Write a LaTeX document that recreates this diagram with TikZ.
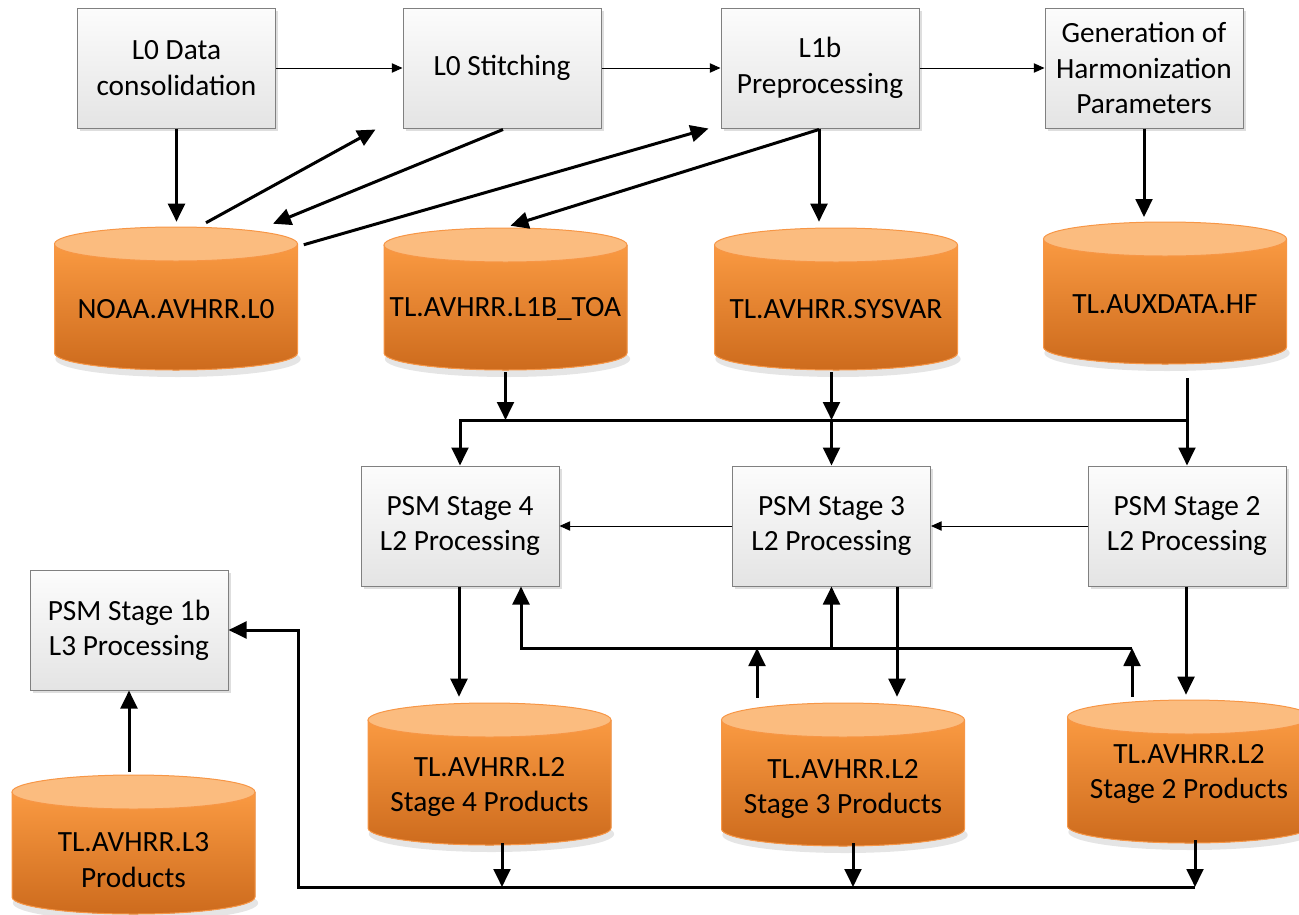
\documentclass[tikz,border=0pt]{standalone}
\usepackage{fontspec}
\newfontfamily\carlito{Carlito}
\usetikzlibrary{arrows.meta,calc,shadows}
\definecolor{boxtop}{HTML}{FCFCFC}
\definecolor{boxbot}{HTML}{E4E4E4}
\definecolor{boxline}{HTML}{808080}
\definecolor{cylA}{HTML}{FA9A42}
\definecolor{cylB}{HTML}{CD6B1D}
\definecolor{cylTop}{HTML}{FBBC7F}
\definecolor{cylLine}{HTML}{F79646}
\tikzset{
  procbox/.style={draw=boxline, line width=0.75pt, top color=boxtop, bottom color=boxbot,
    minimum width=148.5pt, minimum height=90pt, align=center, inner sep=2pt,
    font=\carlito\fontsize{22}{26.5}\selectfont,
    drop shadow={shadow xshift=2pt, shadow yshift=-2pt, fill=black, opacity=0.13}},
  cylnode/.style={inner sep=0pt, minimum width=182.25pt},
  cyltext/.style={align=center, inner sep=0pt, font=\carlito\fontsize{22}{26.5}\selectfont},
  thinarrow/.style={line width=0.75pt, -{Triangle[length=8pt,width=7pt]}},
  thickarrow/.style={line width=2.25pt, line join=miter, -{Triangle[length=13.5pt,width=12.5pt]}},
}
\newcommand\dbcyl[6]{%
  \pgfmathsetmacro\cxl{#2-121.5}%
  \pgfmathsetmacro\cxr{#2+121.5}%
  \pgfmathsetmacro\ytc{#3+17}%
  \pgfmathsetmacro\ybc{#4-17}%
  \pgfmathsetmacro\ymid{(#3+#4)/2}%
  \pgfmathsetmacro\hh{(#4-#3)*0.75}%
  \fill[black,opacity=0.10] (#2+2,\ybc+6) ellipse[x radius=92pt, y radius=13.5pt];
  \fill[top color=cylA, bottom color=cylB] (\cxl,\ytc) -- (\cxl,\ybc)
     arc[start angle=180,end angle=360,x radius=91.125pt,y radius=12.75pt] -- (\cxr,\ytc) -- cycle;
  \draw[cylLine, line width=0.75pt] (\cxl,\ytc) -- (\cxl,\ybc)
     arc[start angle=180,end angle=360,x radius=91.125pt,y radius=12.75pt] -- (\cxr,\ytc);
  \filldraw[fill=cylTop, draw=cylLine, line width=0.75pt] (#2,\ytc) ellipse[x radius=91.125pt, y radius=12.75pt];
  \node[cylnode, minimum height=\hh pt] (#1) at (#2,\ymid) {};
  \node[cyltext] (#1-label) at (#2,#6) {#5};
}
\begin{document}
\begin{tikzpicture}[x=0.75pt,y=-0.75pt]
\useasboundingbox (0,0) rectangle (1299,914);
% process boxes
\node[procbox] (l0d) at (176.5,68) {L0 Data\\consolidation};
\node[procbox] (l0s) at (502,68) {L0 Stitching};
\node[procbox] (l1b) at (820,68) {L1b\\Preprocessing};
\node[procbox] (gen) at (1144,68) {Generation of\\Harmonization\\Parameters};
\node[procbox] (s4) at (460,526) {PSM Stage 4\\L2 Processing};
\node[procbox] (s3) at (831.5,526) {PSM Stage 3\\L2 Processing};
\node[procbox] (s2) at (1187,526) {PSM Stage 2\\L2 Processing};
\node[procbox] (s1b) at (129,630) {PSM Stage 1b\\L3 Processing};
% data stores
\dbcyl{noaa}{176}{227}{370}{NOAA.AVHRR.L0}{309}
\dbcyl{toa}{505.5}{228}{370}{TL.AVHRR.L1B\_TOA}{309}
\dbcyl{sys}{836}{228}{370}{TL.AVHRR.SYSVAR}{309}
\dbcyl{aux}{1165}{222}{364}{TL.AUXDATA.HF}{304}
\dbcyl{s4p}{489.5}{703}{845}{TL.AVHRR.L2\\Stage 4 Products}{787}
\dbcyl{s3p}{843}{703}{846}{TL.AVHRR.L2\\Stage 3 Products}{789}
\dbcyl{s2p}{1189}{700}{843}{TL.AVHRR.L2\\Stage 2 Products}{774}
\dbcyl{l3}{133.5}{775}{914}{TL.AVHRR.L3\\Products}{860}
% thin flow arrows
\draw[thinarrow] (l0d) -- (l0s);
\draw[thinarrow] (l0s) -- (l1b);
\draw[thinarrow] (l1b) -- (gen);
\draw[thinarrow] (s3) -- (s4);
\draw[thinarrow] (s2) -- (s3);
% top thick arrows
\draw[thickarrow, shorten >=3.75pt] (l0d.south) -- (l0d.south |- noaa.north);
\draw[thickarrow] ($(noaa.north)+(30,-4)$) -- ($(l0s.south west)+(-27,1)$);
\draw[thickarrow] ($(l0s.south)+(1,1)$) -- ($(noaa.north)+(97,-3)$);
\draw[thickarrow] ($(noaa.north east)+(6,18)$) -- ($(l1b.south west)+(-12,0)$);
\draw[thickarrow] ($(l1b.south)+(-1,1)$) -- ($(toa.north)+(5,-2)$);
\draw[thickarrow, shorten >=4.5pt] ($(l1b.south)+(-1,0)$) -- ($(l1b.south |- sys.north)+(-1,0)$);
\draw[thickarrow, shorten >=3.5pt] (gen.south) -- (gen.south |- aux.north);
% input bus
\coordinate (busL) at (460,420);
\coordinate (busR) at (1187,420);
\coordinate (t1) at ($(toa.south)+(0,2)$);
\coordinate (t2) at ($(s3.north |- sys.south)+(0,2)$);
\draw[thickarrow] (t1) -- (t1 |- busL);
\draw[thickarrow] (t2) -- (t2 |- busL);
\draw[thickarrow] (busR) -- (busL) -- (busL |- s4.north);
\draw[thickarrow] (s3.north |- busL) -- (s3.north);
\draw[thickarrow] ($(busR |- aux.south)+(0,14)$) -- (busR |- s2.north);
% processing to products
\coordinate (d4) at ($(s4.south)+(-1,0)$);
\coordinate (d3) at ($(s3.south)+(65.5,0)$);
\coordinate (d2) at ($(s2.south)+(-1,0)$);
\draw[thickarrow] (d4) -- ($(d4 |- s4p.north)+(0,-6)$);
\draw[thickarrow] (d3) -- ($(d3 |- s3p.north)+(0,-6)$);
\draw[thickarrow] (d2) -- ($(d2 |- s2p.north)+(0,-5)$);
% feedback bus
\coordinate (fbL) at (521,648);
\coordinate (fbR) at (1132,648);
\draw[thickarrow] (fbR) -- (fbL) -- (fbL |- s4.south);
\draw[thickarrow] (s3.south |- fbL) -- (s3.south);
\coordinate (u3) at ($(s3p.north)+(-86,-5)$);
\coordinate (u2) at ($(s2p.north)+(-57,-3)$);
\draw[thickarrow] (u3) -- (u3 |- fbL);
\draw[thickarrow] (u2) -- (u2 |- fbL);
% bottom bus to stage 1b
\coordinate (bbL) at (298,887);
\coordinate (bbR) at (1195,887);
\coordinate (b4) at ($(s4p.south)+(12.5,-2)$);
\coordinate (b3) at ($(s3p.south)+(10,-3)$);
\coordinate (b2) at ($(s2p.south)+(6,-3)$);
\draw[thickarrow] (b4) -- (b4 |- bbL);
\draw[thickarrow] (b3) -- (b3 |- bbL);
\draw[thickarrow] (b2) -- (b2 |- bbL);
\draw[thickarrow] (bbR) -- (bbL) -- (bbL |- s1b.east) -- (s1b.east);
\coordinate (l3t) at ($(l3.north -| s1b.south)+(0,-3)$);
\draw[thickarrow] (l3t) -- (s1b.south);
\end{tikzpicture}
\end{document}
